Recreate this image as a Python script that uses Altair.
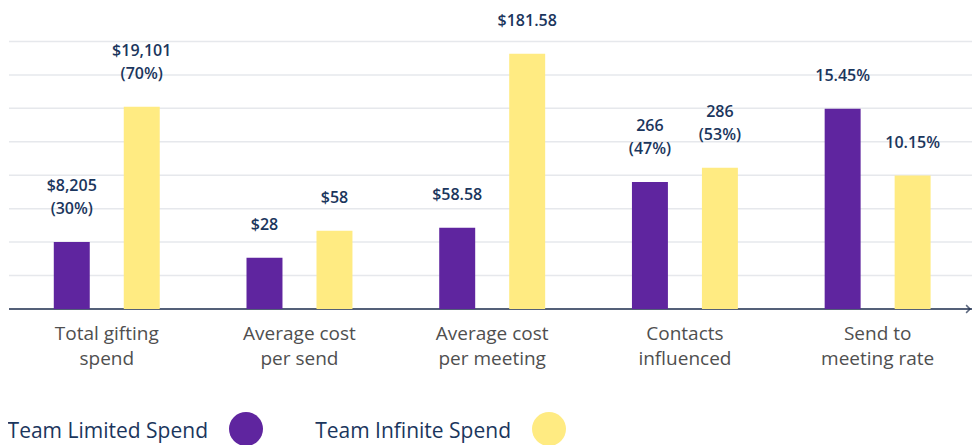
import altair as alt
import pandas as pd

categories = [
    "Total gifting\nspend",
    "Average cost\nper send",
    "Average cost\nper meeting",
    "Contacts\ninfluenced",
    "Send to\nmeeting rate",
]
series = ["Team Limited Spend", "Team Infinite Spend"]
colors = ["#5f259f", "#ffeb82"]

# displayed bar heights (in gridline units)
limited_heights = [2.0, 1.53, 2.43, 3.80, 5.99]
infinite_heights = [6.05, 2.34, 7.63, 4.22, 3.99]

# value labels: upper line and lower line (lower sits nearest the bar)
limited_top = ["$8,205", "", "", "266", ""]
limited_bottom = ["(30%)", "$28", "$58.58", "(47%)", "15.45%"]
infinite_top = ["$19,101", "", "", "286", ""]
infinite_bottom = ["(70%)", "$58", "$181.58", "(53%)", "10.15%"]

grid_levels = [1, 2, 3, 4, 5, 6, 7, 8]

rows = []
for i, c in enumerate(categories):
    rows.append({"category": c, "series": series[0], "h": limited_heights[i],
                 "top": limited_top[i], "bottom": limited_bottom[i]})
    rows.append({"category": c, "series": series[1], "h": infinite_heights[i],
                 "top": infinite_top[i], "bottom": infinite_bottom[i]})
df = pd.DataFrame(rows)
grid_df = pd.DataFrame({"level": grid_levels})
legend_df = pd.DataFrame({"series": series})

W = 962
H = 301
NAVY = "#1b365d"
FONT = "Open Sans"

yscale = alt.Scale(domain=[0, 9], nice=False, zero=True)
xscale = alt.Scale(domain=categories, range=[1.4, 965], paddingInner=0, paddingOuter=0)
xoff = alt.Scale(domain=series, paddingInner=0.486, paddingOuter=0.62)
cscale = alt.Scale(domain=series, range=colors)

xaxis = alt.Axis(
    title=None,
    labelExpr="split(datum.label, '\\n')",
    labelAngle=0,
    labelFont=FONT,
    labelFontSize=19,
    labelColor="#4f4f4f",
    labelPadding=15,
    labelLineHeight=25,
    ticks=False,
    domain=False,
    grid=False,
)

grid = alt.Chart(grid_df).mark_rule(color="#e6e8ec", strokeWidth=1.5).encode(
    y=alt.Y("level:Q", scale=yscale, axis=None),
    x=alt.value(0),
    x2=alt.value(W + 1),
)

axis_line = alt.Chart(legend_df.head(1)).mark_rule(color="#1b2b4b", strokeWidth=1.5).encode(
    y=alt.value(H), x=alt.value(0), x2=alt.value(W + 1),
)

base = alt.Chart(df).encode(
    x=alt.X("category:N", scale=xscale, sort=categories, axis=xaxis),
    xOffset=alt.XOffset("series:N", scale=xoff, sort=series),
    y=alt.Y("h:Q", scale=yscale, axis=None),
)

bars = base.mark_bar().encode(
    color=alt.Color("series:N", scale=cscale, legend=None),
)

txt = dict(baseline="middle", font=FONT, fontSize=16, fontWeight=600, color=NAVY)
lab_bottom = base.mark_text(dy=-33, **txt).encode(text="bottom:N")
lab_top = base.transform_filter("datum.top != ''").mark_text(dy=-56, **txt).encode(text="top:N")

arrow = alt.Chart(legend_df.head(1)).mark_point(
    shape="M-1,-1L0,0L-1,1", filled=False, strokeWidth=1.5, color="#1b2b4b", size=60,
).encode(x=alt.value(W - 1), y=alt.value(H))

main = alt.layer(grid, axis_line, bars, lab_bottom, lab_top, arrow)

leg_x = alt.X("series:N", scale=alt.Scale(type="point", domain=series, range=[237, 540], padding=0), axis=None)
leg_dots = alt.Chart(legend_df).mark_point(filled=True, size=1156, opacity=1, shape="circle").encode(
    x=leg_x, y=alt.value(421), color=alt.Color("series:N", scale=cscale, legend=None),
)
leg_text = alt.Chart(legend_df).mark_text(
    align="right", baseline="middle", dx=-38, dy=3, font=FONT, fontSize=21, color=NAVY,
).encode(x=leg_x, y=alt.value(421), text="series:N")
legend = alt.layer(leg_dots, leg_text)

chart = alt.layer(main, legend).resolve_scale(x="independent").properties(
    width=W, height=H,
    autosize=alt.AutoSizeParams(type="none"),
    padding={"left": 1, "top": 0, "right": 1, "bottom": 140},
).configure_view(stroke=None)

chart.save("out.html", embed_options={"renderer": "svg", "actions": False})
